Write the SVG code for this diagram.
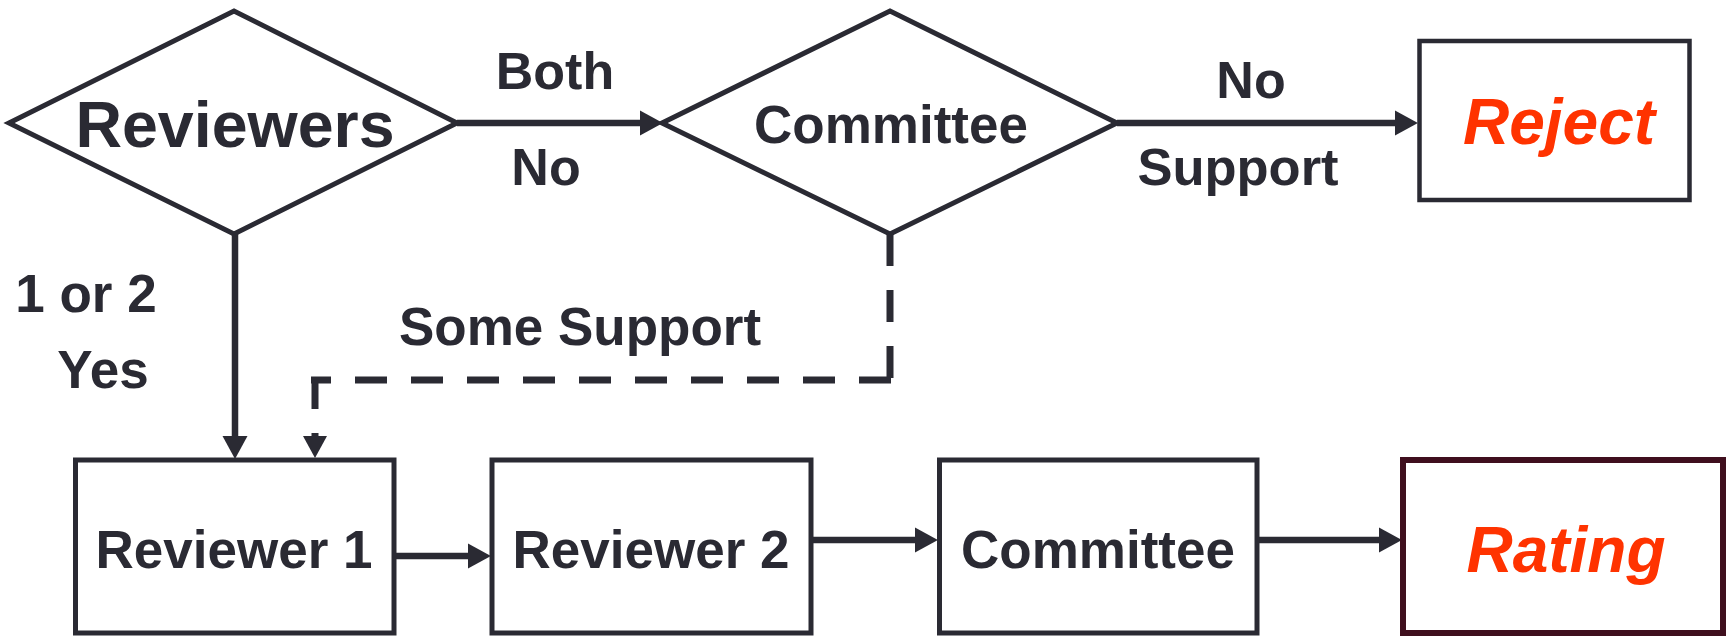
<svg xmlns="http://www.w3.org/2000/svg" width="1731" height="636" viewBox="0 0 1731 636">
<style>
  .shape { fill: #ffffff; stroke: #2a2a33; stroke-width: 5; }
  .txt { font-family: "Liberation Sans", Arial, sans-serif; font-weight: bold; fill: #2a2a33; text-anchor: middle; }
  .red { font-family: "Liberation Sans", Arial, sans-serif; font-weight: bold; font-style: italic; fill: #ff3300; text-anchor: middle; font-size: 64px; }
  .conn { fill: none; stroke: #2a2a33; stroke-width: 6.5; }
  .dash { fill: none; stroke: #2a2a33; stroke-width: 7; stroke-dasharray: 32 24; }
  .head { fill: #2a2a33; }
</style>
<defs>
  <marker id="arrow" markerUnits="userSpaceOnUse" markerWidth="24" markerHeight="26" refX="1" refY="12" orient="auto" viewBox="0 0 23 24">
    <path d="M0,0 L22,12 L0,24 z" fill="#2a2a33"/>
  </marker>
</defs>
<rect width="1731" height="636" fill="#ffffff"/>

<g id="connectors">
  <path class="conn" d="M457,123 H641" marker-end="url(#arrow)"/>
  <path class="conn" d="M1117,123 H1396" marker-end="url(#arrow)"/>
  <path class="conn" d="M235,234 V437" marker-end="url(#arrow)"/>
  <path class="conn" d="M394,556 H469" marker-end="url(#arrow)"/>
  <path class="conn" d="M811,540 H916" marker-end="url(#arrow)"/>
  <path class="conn" d="M1257,540 H1380" marker-end="url(#arrow)"/>
  <path class="dash" d="M890,234 V380"/>
  <path class="dash" d="M891,380 H311"/>
  <path class="dash" d="M315,377 V436"/>
  <polygon class="head" points="303,436 327,436 315,458"/>
  <text class="txt" x="555" y="89" font-size="52">Both</text>
  <text class="txt" x="546" y="185" font-size="52">No</text>
  <text class="txt" x="1251" y="98" font-size="52">No</text>
  <text class="txt" x="1238" y="185" font-size="52.5">Support</text>
  <text class="txt" x="86" y="312" font-size="53">1 or 2</text>
  <text class="txt" x="103" y="388" font-size="53">Yes</text>
  <text class="txt" x="580" y="345" font-size="53">Some Support</text>
</g>

<g id="node-reviewers">
  <polygon class="shape" points="9,123 234,11 457,123 234,234"/>
  <text class="txt" x="235" y="147" font-size="64.5">Reviewers</text>
</g>
<g id="node-committee-decision">
  <polygon class="shape" points="662,123 890,11 1117,123 890,234"/>
  <text class="txt" x="891" y="143" font-size="53">Committee</text>
</g>
<g id="node-reject">
  <rect class="shape" x="1419.5" y="41" width="270" height="159" style="stroke-width:4.5"/>
  <text class="red" x="1559" y="144">Reject</text>
</g>
<g id="node-reviewer1">
  <rect class="shape" x="75.5" y="460" width="318.5" height="173"/>
  <text class="txt" x="234" y="568" font-size="53">Reviewer 1</text>
</g>
<g id="node-reviewer2">
  <rect class="shape" x="492" y="460" width="319" height="173"/>
  <text class="txt" x="651" y="568" font-size="53">Reviewer 2</text>
</g>
<g id="node-committee">
  <rect class="shape" x="939.5" y="460" width="317.5" height="173"/>
  <text class="txt" x="1098" y="568" font-size="53">Committee</text>
</g>
<g id="node-rating">
  <rect x="1403" y="460" width="320" height="173" fill="#ffffff" stroke="#3f0f1e" stroke-width="6"/>
  <text class="red" x="1566" y="572">Rating</text>
</g>
</svg>
